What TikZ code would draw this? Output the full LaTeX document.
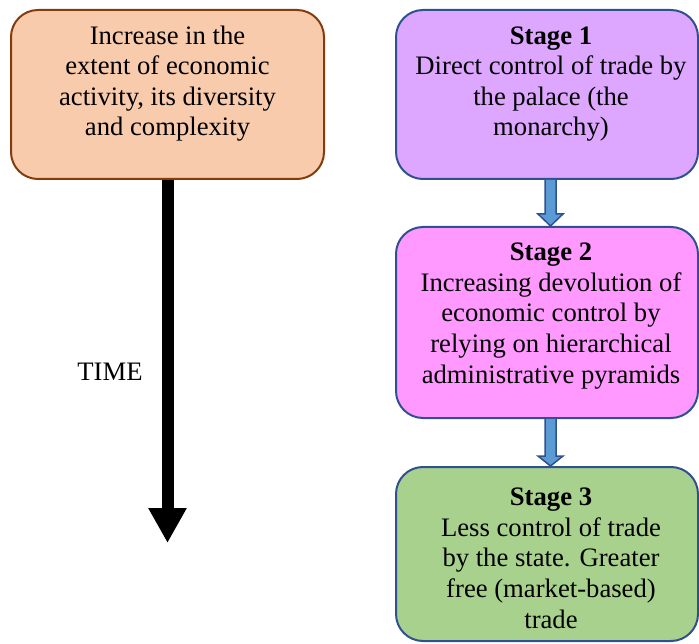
\documentclass[tikz,border=0pt]{standalone}
\usepackage{fontspec}
\setmainfont{Liberation Serif}
\usetikzlibrary{arrows.meta,calc}
\definecolor{leftfill}{HTML}{F8CBAD}
\definecolor{leftdraw}{HTML}{843C0C}
\definecolor{sonefill}{HTML}{DDA6FF}
\definecolor{stwofill}{HTML}{FF99FF}
\definecolor{sthreefill}{HTML}{A9D18E}
\definecolor{boxdraw}{HTML}{2F528F}
\definecolor{arrfill}{HTML}{5B9BD5}
\begin{document}
\begin{tikzpicture}[x=1pt,y=-1pt,
  box/.style={draw=boxdraw,line width=2pt,rounded corners=27pt,minimum width=#1,inner sep=0pt},
  txt/.style={font=\fontsize{26.67}{30.6}\selectfont,align=center,inner sep=0pt,anchor=base},
  blockarrow/.style={fill=arrfill,draw=boxdraw,line width=1.5pt,line join=miter}]
\useasboundingbox (0,0) rectangle (699,644);
% boxes
\node[box=313pt,draw=leftdraw,fill=leftfill,minimum height=169pt] (left) at (167.5,94.5) {};
\node[box=302pt,fill=sonefill,minimum height=169pt] (s1) at (547,94.5) {};
\node[box=302pt,fill=stwofill,minimum height=191pt] (s2) at (547,322.5) {};
\node[box=302pt,fill=sthreefill,minimum height=174pt] (s3) at (547,554) {};
% texts (anchored at the baseline of the last line)
\node[txt] (lt) at (167.5,136) {Increase in the\\extent of economic\\activity, its diversity\\and complexity};
\node[txt] (t1) at (551,136) {\textbf{Stage 1}\\Direct control of trade by\\the palace (the\\monarchy)};
\node[txt] (t2) at (551,383) {\textbf{Stage 2}\\Increasing devolution of\\economic control by\\relying on hierarchical\\administrative pyramids};
\node[txt] (t3) at (551,628) {\textbf{Stage 3}\\Less control of trade\\by the state. Greater\\free (market-based)\\trade};
\node[txt] (time) at (110,381) {TIME};
% time arrow
\coordinate (tend) at (167.5,543);
\draw[line width=12pt,-{Triangle[length=35pt,width=36pt]}] (left.south) -- (tend);
% block arrows
\draw[blockarrow] ($(s1.south)+(-2,0)$) -- ++(0,34) -- ++(-7,0) -- ($(s2.north)+(3.5,0)$) -- ($(s1.south)+(16,34)$) -- ++(-7,0) -- ($(s1.south)+(9,0)$);
\draw[blockarrow] ($(s2.south)+(-2,0)$) -- ++(0,37) -- ++(-7,0) -- ($(s3.north)+(3.5,0)$) -- ($(s2.south)+(16,37)$) -- ++(-7,0) -- ($(s2.south)+(9,0)$);
\end{tikzpicture}
\end{document}
